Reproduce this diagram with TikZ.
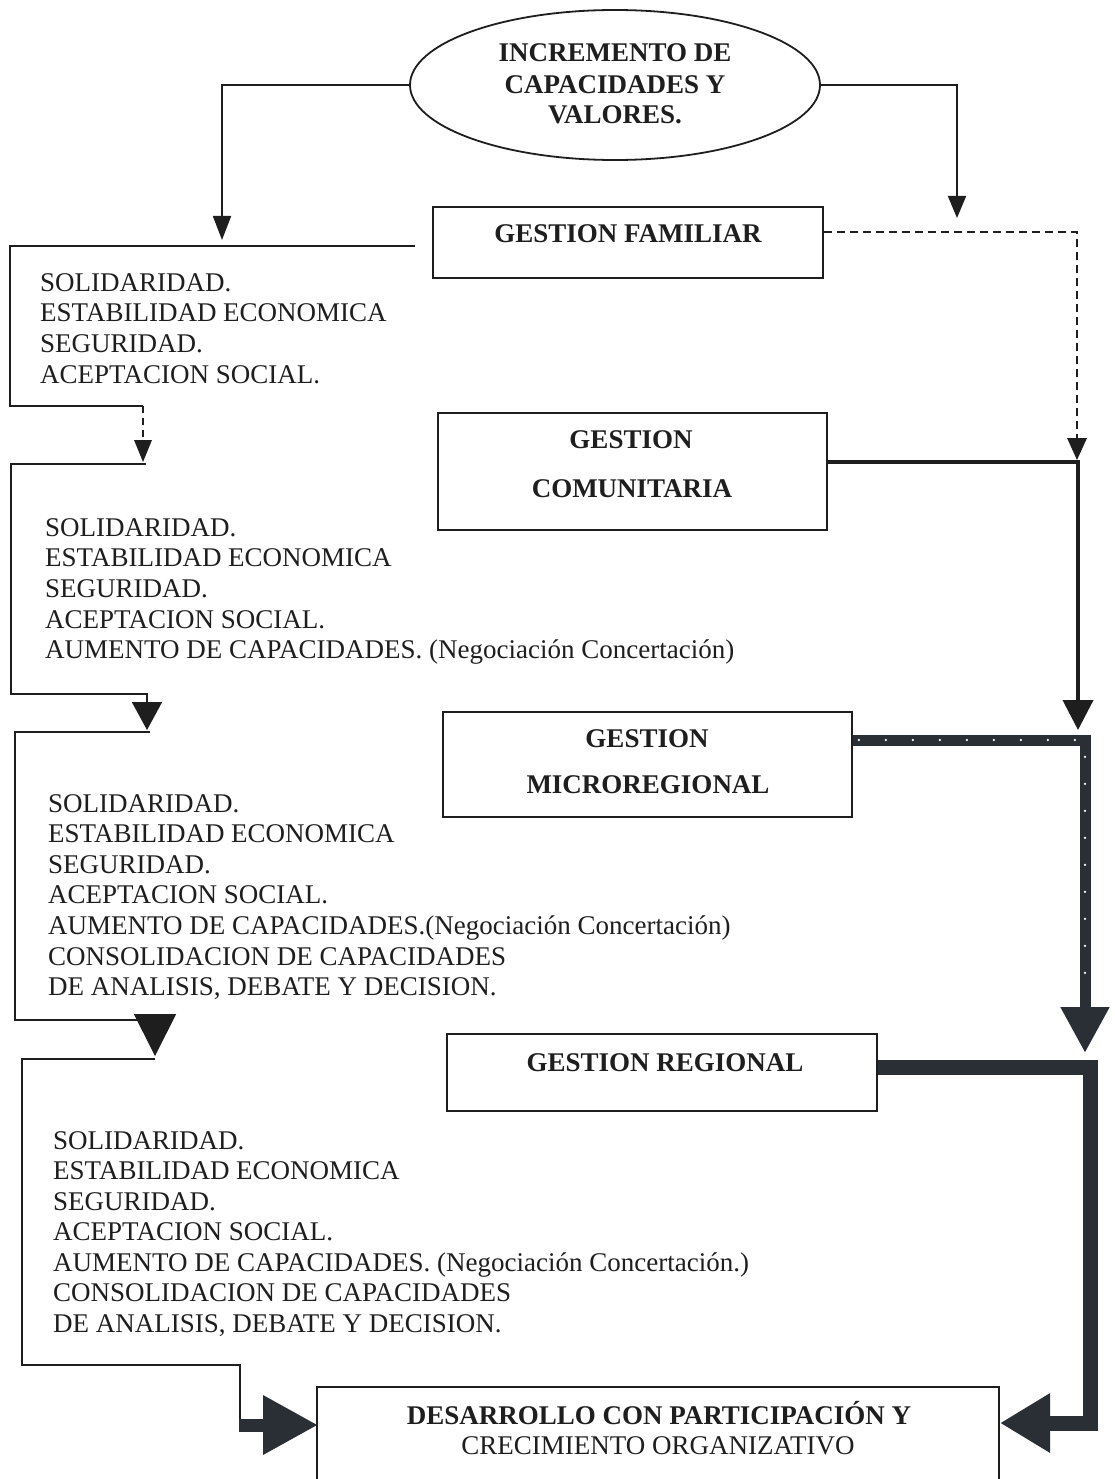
\documentclass[tikz,border=0pt]{standalone}
\usepackage{fontspec}
\setmainfont{Liberation Serif}
\usetikzlibrary{arrows.meta,shapes.geometric}
\definecolor{ink}{RGB}{30,30,30}
\definecolor{slate}{RGB}{42,47,54}
\begin{document}
\begin{tikzpicture}[x=1pt,y=-1pt,
  thinln/.style={line width=1.8pt, draw=ink, line join=miter},
  dashln/.style={line width=1.5pt, draw=ink, dash pattern=on 8pt off 5pt},
  boxnode/.style={draw=ink, line width=1.8pt, rectangle, inner sep=0pt},
  txt/.style={font=\fontsize{27}{31}\selectfont, inner sep=0pt, anchor=base west, text=ink},
  btxt/.style={font=\fontsize{27}{31}\selectfont\bfseries, inner sep=0pt, anchor=base, text=ink},
  ctxt/.style={font=\fontsize{27}{31}\selectfont, inner sep=0pt, anchor=base, text=ink},
]
\useasboundingbox (0,0) rectangle (1115,1479);
\clip (0,0) rectangle (1115,1479);
\fill[white] (0,0) rectangle (1115,1479);

% ---------- shapes ----------
\node[ellipse, draw=ink, line width=1.8pt, minimum width=410pt, minimum height=150pt, inner sep=0pt] (ell) at (615,85) {};
\node[boxnode, minimum width=390pt, minimum height=71pt] (gf) at (628,242.5) {};
\node[boxnode, minimum width=389pt, minimum height=117pt] (gc) at (632.5,471.5) {};
\node[boxnode, minimum width=409pt, minimum height=105pt] (gm) at (647.5,764.5) {};
\node[boxnode, minimum width=430pt, minimum height=77pt] (gr) at (662,1072.5) {};
\node[boxnode, minimum width=682pt, minimum height=113pt] (des) at (658,1443.5) {};

% ---------- box texts ----------
\node[btxt] (e1) at (615,62) {INCREMENTO DE};
\node[btxt] (e2) at (615,94) {CAPACIDADES Y};
\node[btxt] (e3) at (615,124) {VALORES.};
\node[btxt] (gft) at (628,243) {GESTION FAMILIAR};
\node[btxt] (gct1) at (631,448) {GESTION};
\node[btxt] (gct2) at (632,497) {COMUNITARIA};
\node[btxt] (gmt1) at (647,747) {GESTION};
\node[btxt] (gmt2) at (648,793) {MICROREGIONAL};
\node[btxt] (grt) at (665,1071) {GESTION REGIONAL};
\node[btxt] (dst1) at (659,1424) {DESARROLLO CON PARTICIPACIÓN Y};
\node[ctxt] (dst2) at (658,1454) {CRECIMIENTO ORGANIZATIVO};

% ---------- left text blocks ----------
\foreach \t [count=\i] in {{SOLIDARIDAD.},{ESTABILIDAD ECONOMICA},{SEGURIDAD.},{ACEPTACION SOCIAL.}}
  \node[txt] (ta\i) at (40,{291+30.7*(\i-1)}) {\t};
\foreach \t [count=\i] in {{SOLIDARIDAD.},{ESTABILIDAD ECONOMICA},{SEGURIDAD.},{ACEPTACION SOCIAL.},{AUMENTO DE CAPACIDADES. (Negociación Concertación)}}
  \node[txt] (tb\i) at (45,{536+30.7*(\i-1)}) {\t};
\foreach \t [count=\i] in {{SOLIDARIDAD.},{ESTABILIDAD ECONOMICA},{SEGURIDAD.},{ACEPTACION SOCIAL.},{AUMENTO DE CAPACIDADES.(Negociación Concertación)},{CONSOLIDACION DE CAPACIDADES},{DE ANALISIS, DEBATE Y DECISION.}}
  \node[txt] (tc\i) at (48,{812+30.6*(\i-1)}) {\t};
\foreach \t [count=\i] in {{SOLIDARIDAD.},{ESTABILIDAD ECONOMICA},{SEGURIDAD.},{ACEPTACION SOCIAL.},{AUMENTO DE CAPACIDADES. (Negociación Concertación.)},{CONSOLIDACION DE CAPACIDADES},{DE ANALISIS, DEBATE Y DECISION.}}
  \node[txt] (td\i) at (53,{1149+30.5*(\i-1)}) {\t};

% ---------- coordinates ----------
\coordinate (lA) at (222,240);
\coordinate (rA) at (957,218);
\coordinate (d1) at (1077,232);
\coordinate (d2) at (1077,460);
\coordinate (d3) at (1077,440);
\coordinate (b1a) at (415,246);
\coordinate (b1b) at (10,246);
\coordinate (b1c) at (10,406);
\coordinate (b1d) at (143,406);
\coordinate (b1e) at (143,462);
\coordinate (b1f) at (143,442);
\coordinate (b2a) at (146,464);
\coordinate (b2b) at (11,464);
\coordinate (b2c) at (11,694);
\coordinate (b2d) at (147,694);
\coordinate (b2e) at (147,730);
\coordinate (b3a) at (150,732);
\coordinate (b3b) at (15,732);
\coordinate (b3c) at (15,1020);
\coordinate (b3d) at (155,1020);
\coordinate (b3e) at (155,1056);
\coordinate (b4a) at (155,1059);
\coordinate (b4b) at (22,1059);
\coordinate (b4c) at (22,1365);
\coordinate (b4d) at (240,1365);
\coordinate (b4e) at (240,1431);
\coordinate (b4f) at (239,1425);
\coordinate (b4g) at (318,1425);
\coordinate (c1) at (1078,462);
\coordinate (c2) at (1078,730);
\coordinate (m1) at (1085,740);
\coordinate (m2) at (1085,1053);
\coordinate (r1) at (1090,1067);
\coordinate (r2) at (1090,1423);
\coordinate (r3) at (1000,1423);

% ---------- connectors from ellipse ----------
\draw[thinln, -{Triangle[length=24pt,width=18pt]}] (ell.west) -| (lA);
\draw[thinln, -{Triangle[length=22pt,width=18pt]}] (ell.east) -| (rA);

% dashed connector from GESTION FAMILIAR
\draw[dashln] ([yshift=10.5pt]gf.east) -- (d1) -- (d3);
\fill[ink] (d2) -- ++(-10,-22) -- ++(20,0) -- cycle;

% ---------- left brackets ----------
\draw[thinln] (b1a) -- (b1b) -- (b1c) -- (b1d);
\draw[dashln, dash pattern=on 7pt off 5pt] (b1d) -- (b1f);
\fill[ink] (b1e) -- ++(-9,-22) -- ++(18,0) -- cycle;

\draw[thinln, -{Triangle[length=28pt,width=30pt]}] (b2a) -- (b2b) -- (b2c) -- (b2d) -- (b2e);
\draw[thinln, -{Triangle[length=42pt,width=42pt]}] (b3a) -- (b3b) -- (b3c) -- (b3d) -- (b3e);
\draw[thinln] (b4a) -- (b4b) -- (b4c) -- (b4d) -- (b4e);
\draw[line width=13pt, draw=slate, -{Triangle[length=55pt,width=56pt]}] (b4f) -- (b4g);

% ---------- right connectors ----------
\draw[line width=4pt, draw=ink, line join=miter, -{Triangle[length=30pt,width=30pt]}]
  ([yshift=9.5pt]gc.east) -- (c1) -- (c2);
\draw[line width=11pt, draw=slate, line join=miter, -{Triangle[length=46pt,width=46pt]}]
  ([yshift=24.5pt]gm.east) -- (m1) -- (m2);
\draw[white, line width=2.6pt, line cap=round, dash pattern=on 0pt off 27pt, shorten >=60pt]
  ([yshift=24.5pt,xshift=6pt]gm.east) -- (m1) -- (m2);
\draw[line width=15pt, draw=slate, line join=miter, -{Triangle[length=50pt,width=56pt]}]
  ([yshift=5.5pt]gr.east) -- (r1) -- (r2) -- (r3);
\end{tikzpicture}
\end{document}
